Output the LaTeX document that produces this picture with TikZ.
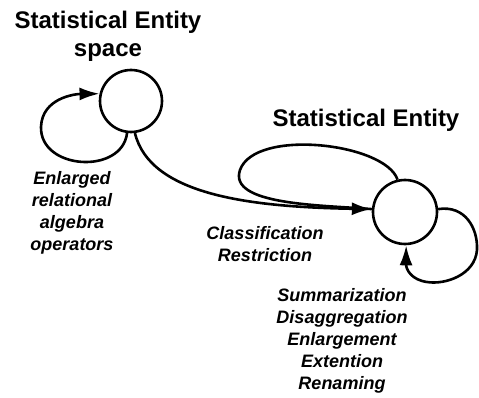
\documentclass[tikz,border=0pt]{standalone}
\usepackage{fontspec}
\setmainfont{Liberation Sans}
\usetikzlibrary{arrows.meta}
\begin{document}
\begin{tikzpicture}[x=1pt,y=-1pt,
  edge/.style={line width=2.6pt},
  tip/.style={-{Latex[length=20pt,width=13pt]}},
  state/.style={circle,draw,line width=2.6pt,inner sep=0pt},
  title/.style={font=\fontsize{24}{28}\selectfont\bfseries,align=center},
  lab/.style={font=\fontsize{18}{22}\selectfont\bfseries\itshape,align=center}]
\useasboundingbox (0,0) rectangle (479,398);
\node[state,minimum size=62pt] (c1) at (131,101) {};
\node[state,minimum size=64pt] (c2) at (405,212) {};
\node[title] (t1) at (108,36) {Statistical Entity\\space};
\node[title] (t2) at (366,120) {Statistical Entity};
\node[lab] (l1) at (72,213) {Enlarged\\relational\\algebra\\operators};
\node[lab] (l2) at (265,244) {Classification\\Restriction};
\node[lab] (l3) at (342,341) {Summarization\\Disaggregation\\Enlargement\\Extention\\Renaming};
% loop on c1
\draw[edge,tip] (c1.263) .. controls (122,175) and (40,170) .. (41,127)
   .. controls (42,98) and (75,94) .. (c1.167);
% c1 -> c2
\draw[edge,tip] (c1.277) .. controls (150,195) and (250,207) .. (c2.175);
% top loop on c2
\draw[edge] (c2.103) .. controls (385,143) and (255,128) .. (240,170)
   .. controls (228,205) and (320,205) .. (c2.175);
% right loop on c2
\draw[edge,tip] (c2.5) .. controls (465,205) and (478,228) .. (477,250)
   .. controls (475,275) and (445,285) .. (427,282)
   .. controls (412,280) and (406,270) .. (c2.272);
\end{tikzpicture}
\end{document}
